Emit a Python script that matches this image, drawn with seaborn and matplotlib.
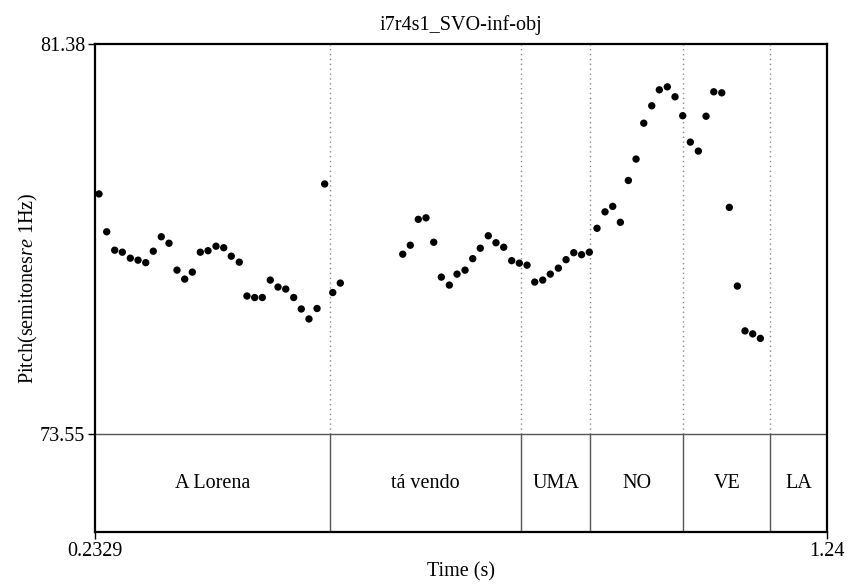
import matplotlib
matplotlib.use("Agg")
import matplotlib.pyplot as plt
import seaborn as sns
import pandas as pd

# ---- data ----
times = [0.2384, 0.2490, 0.2600, 0.2705, 0.2815, 0.2921, 0.3027, 0.3131, 0.3241, 0.3347,
         0.3457, 0.3563, 0.3668, 0.3778, 0.3884, 0.3994, 0.4100, 0.4204, 0.4314, 0.4420,
         0.4526, 0.4631, 0.4741, 0.4847, 0.4953, 0.5063, 0.5167, 0.5273, 0.5384, 0.5489,
         0.5600, 0.5704,
         0.6563, 0.6667, 0.6777, 0.6883, 0.6989, 0.7094, 0.7204, 0.7310, 0.7420, 0.7526,
         0.7630, 0.7740, 0.7846, 0.7952, 0.8062, 0.8167, 0.8273, 0.8379, 0.8489, 0.8593,
         0.8704, 0.8810, 0.8916, 0.9023, 0.9130, 0.9236, 0.9346, 0.9452, 0.9557, 0.9667,
         0.9773, 0.9879, 0.9989, 1.0093, 1.0203, 1.0309, 1.0415, 1.0520, 1.0630, 1.0736,
         1.0842, 1.0952, 1.1056, 1.1167, 1.1272, 1.1378, 1.1483]
pitch = [78.37, 77.61, 77.24, 77.20, 77.08, 77.04, 76.99, 77.22, 77.51, 77.38,
         76.84, 76.66, 76.80, 77.20, 77.23, 77.32, 77.29, 77.12, 77.00, 76.32,
         76.29, 76.29, 76.64, 76.50, 76.46, 76.29, 76.06, 75.86, 76.07, 78.57,
         76.39, 76.58,
         77.16, 77.34, 77.86, 77.89, 77.40, 76.70, 76.54, 76.76, 76.84, 77.07,
         77.28, 77.53, 77.39, 77.30, 77.03, 76.98, 76.94, 76.60, 76.64, 76.76,
         76.88, 77.05, 77.19, 77.15, 77.20, 77.68, 78.01, 78.12, 77.80, 78.64,
         79.07, 79.79, 80.14, 80.46, 80.52, 80.32, 79.94, 79.41, 79.23, 79.93,
         80.42, 80.40, 78.10, 76.52, 75.62, 75.56, 75.47]
boundaries = [0.556, 0.8193, 0.914, 1.0423, 1.1616]
tier_labels = ["A Lorena", "tá vendo", "UMA", "NO", "VE", "LA"]
x_ticks = [0.2329, 1.24]
x_tick_labels = ["0.2329", "1.24"]
y_ticks = [73.55, 81.38]
y_tick_labels = ["73.55", "81.38"]
title = "i7r4s1_SVO-inf-obj"

t_min, t_max = 0.2329, 1.24
p_min, p_max = 73.55, 81.38

sns.set_style("white")
plt.rcParams["font.family"] = ["Liberation Serif", "DejaVu Serif"]
plt.rcParams["mathtext.fontset"] = "custom"
plt.rcParams["mathtext.it"] = "Liberation Serif:italic"
plt.rcParams["mathtext.rm"] = "Liberation Serif"
plt.rcParams["text.color"] = "black"
plt.rcParams["axes.labelcolor"] = "black"
plt.rcParams["xtick.color"] = "black"
plt.rcParams["ytick.color"] = "black"

fig = plt.figure(figsize=(8.48, 5.84), dpi=100)
ax = fig.add_axes([95 / 848, 1 - 532 / 584, 732 / 848, 488 / 584])

df = pd.DataFrame({"time": times, "pitch": pitch})
sns.scatterplot(data=df, x="time", y="pitch", ax=ax, color="black", s=28,
                edgecolor="none", zorder=3)

tier_frac = 98 / 488
y_bottom = p_min - (p_max - p_min) * tier_frac / (1 - tier_frac)
ax.set_xlim(t_min, t_max)
ax.set_ylim(y_bottom, p_max)

# separator between pitch area and tier
ax.axhline(p_min, color="#555555", lw=1.0, zorder=2)
# boundaries
for b in boundaries:
    ax.plot([b, b], [p_min, p_max], color="#888888", lw=1.0, ls=(0, (1, 2.5)), zorder=1)
    ax.plot([b, b], [y_bottom, p_min], color="#555555", lw=1.0, zorder=2)

edges = [t_min] + boundaries + [t_max]
tier_mid = (y_bottom + p_min) / 2
for i, lab in enumerate(tier_labels):
    ax.text((edges[i] + edges[i + 1]) / 2, tier_mid, lab, ha="center", va="center",
            fontsize=14.5, color="black")

ax.set_xticks(x_ticks)
ax.set_xticklabels(x_tick_labels)
ax.set_yticks(y_ticks)
ax.set_yticklabels(y_tick_labels)
ax.tick_params(axis="both", direction="out", length=5, width=1.0, color="black",
               labelsize=14.5, pad=2, bottom=True, left=True, labelcolor="black")
for sp in ax.spines.values():
    sp.set_visible(True)
    sp.set_color("black")
    sp.set_linewidth(1.6)

ax.set_xlabel("Time (s)", fontsize=14.5, labelpad=1)
ax.set_ylabel(r"Pitch(semitones$\mathit{re}$ 1Hz)", fontsize=14.5)
ax.yaxis.set_label_coords(-0.0755, 0.5)
ax.set_title(title, fontsize=14.5, pad=10)

fig.savefig("out.png", dpi=100)
